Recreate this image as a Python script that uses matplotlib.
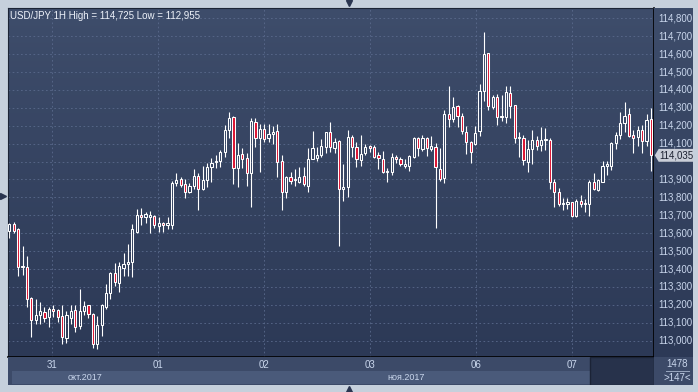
import numpy as np
import matplotlib
matplotlib.use('Agg')
import matplotlib.pyplot as plt
from matplotlib.colors import LinearSegmentedColormap
from matplotlib.patches import Rectangle, Polygon
from matplotlib.lines import Line2D
import matplotlib.transforms as mtransforms

plt.rcParams['font.family'] = ['Liberation Sans', 'DejaVu Sans']

# USD/JPY 1H candles (open, high, low, close)
opens = [113.614, 113.650, 113.624, 113.410, 113.410, 113.237, 113.114, 113.142, 113.158, 113.131,
         113.177, 113.170, 113.136, 113.015, 113.125, 113.170, 113.082, 113.164, 113.198, 113.147,
         112.981, 113.086, 113.190, 113.265, 113.376, 113.320, 113.407, 113.427, 113.441, 113.608,
         113.700, 113.689, 113.692, 113.694, 113.642, 113.655, 113.648, 113.648, 113.879, 113.901,
         113.873, 113.828, 113.862, 113.918, 113.845, 113.895, 113.968, 113.995, 114.002, 114.052,
         114.175, 114.247, 113.962, 114.041, 114.018, 113.935, 114.223, 114.130, 114.180, 114.130,
         114.152, 114.169, 114.002, 113.828, 113.916, 113.895, 113.888, 113.918, 113.865, 114.014,
         114.022, 114.035, 114.080, 114.163, 114.074, 114.113, 113.845, 113.856, 114.135, 114.080,
         114.007, 114.046, 114.085, 114.081, 114.037, 114.013, 113.940, 113.940, 114.026, 114.013,
         113.977, 113.977, 114.027, 114.130, 114.068, 114.130, 114.072, 114.080, 113.960, 113.907,
         114.264, 114.236, 114.310, 114.255, 114.167, 114.108, 114.096, 114.171, 114.394, 114.605,
         114.306, 114.359, 114.250, 114.247, 114.381, 114.316, 114.131, 114.130, 114.000, 114.069,
         114.120, 114.093, 114.121, 114.120, 113.888, 113.828, 113.763, 113.765, 113.773, 113.698,
         113.778, 113.761, 113.761, 113.888, 113.841, 113.888, 113.975, 113.977, 114.102, 114.149,
         114.217, 114.264, 114.149, 114.135, 114.176, 114.117, 114.236]
highs = [113.659, 113.665, 113.628, 113.529, 113.473, 113.244, 113.233, 113.216, 113.190, 113.190,
         113.199, 113.177, 113.199, 113.167, 113.199, 113.199, 113.287, 113.222, 113.198, 113.153,
         113.139, 113.203, 113.316, 113.385, 113.432, 113.441, 113.488, 113.540, 113.651, 113.734,
         113.739, 113.717, 113.722, 113.700, 113.692, 113.664, 113.689, 113.890, 113.935, 113.916,
         113.901, 113.879, 113.957, 113.935, 113.974, 113.990, 114.018, 114.035, 114.063, 114.203,
         114.275, 114.255, 114.105, 114.074, 114.046, 114.242, 114.242, 114.210, 114.210, 114.210,
         114.199, 114.210, 114.035, 113.919, 113.940, 113.957, 113.971, 113.968, 114.074, 114.169,
         114.080, 114.124, 114.163, 114.219, 114.130, 114.118, 113.986, 114.175, 114.147, 114.108,
         114.147, 114.096, 114.090, 114.093, 114.055, 114.059, 113.964, 114.050, 114.037, 114.024,
         114.013, 114.037, 114.139, 114.135, 114.149, 114.135, 114.143, 114.104, 114.076, 114.288,
         114.422, 114.359, 114.316, 114.270, 114.199, 114.117, 114.200, 114.431, 114.725, 114.608,
         114.372, 114.377, 114.372, 114.422, 114.422, 114.316, 114.167, 114.149, 114.120, 114.176,
         114.143, 114.195, 114.186, 114.130, 113.903, 113.851, 113.795, 113.795, 113.776, 113.791,
         113.813, 113.789, 113.897, 113.935, 113.901, 114.003, 114.005, 114.111, 114.167, 114.275,
         114.331, 114.298, 114.176, 114.199, 114.204, 114.264, 114.298]
lows = [113.575, 113.600, 113.361, 113.365, 113.190, 113.019, 113.095, 113.095, 113.104, 113.078,
        113.134, 113.106, 112.982, 112.986, 113.093, 113.047, 113.065, 113.143, 113.125, 112.962,
        112.955, 113.028, 113.175, 113.233, 113.305, 113.273, 113.361, 113.361, 113.357, 113.600,
        113.646, 113.655, 113.600, 113.631, 113.605, 113.605, 113.625, 113.625, 113.864, 113.856,
        113.797, 113.823, 113.845, 113.728, 113.841, 113.856, 113.884, 113.962, 113.968, 114.024,
        114.130, 113.873, 113.856, 113.962, 113.865, 113.745, 114.080, 113.944, 114.108, 114.108,
        114.096, 113.916, 113.730, 113.795, 113.873, 113.865, 113.879, 113.864, 113.832, 114.013,
        114.002, 114.027, 114.050, 114.053, 114.046, 113.530, 113.782, 113.800, 114.024, 113.968,
        113.974, 114.035, 114.053, 114.020, 113.959, 113.935, 113.888, 113.923, 113.994, 113.977,
        113.962, 113.949, 114.022, 114.031, 114.061, 114.033, 114.059, 113.627, 113.893, 113.879,
        114.195, 114.223, 114.195, 114.154, 114.041, 113.994, 114.094, 114.145, 114.338, 114.288,
        114.294, 114.204, 114.228, 114.217, 114.245, 114.102, 114.027, 113.981, 113.944, 113.986,
        114.065, 114.061, 114.065, 113.845, 113.748, 113.752, 113.730, 113.734, 113.692, 113.692,
        113.748, 113.717, 113.698, 113.841, 113.837, 113.884, 113.925, 113.953, 114.069, 114.124,
        114.167, 114.135, 114.046, 114.087, 114.050, 114.087, 113.949]
closes = [113.652, 113.615, 113.413, 113.418, 113.231, 113.114, 113.142, 113.166, 113.125, 113.177,
          113.164, 113.134, 113.019, 113.142, 113.166, 113.078, 113.166, 113.192, 113.149, 112.981,
          113.086, 113.198, 113.265, 113.380, 113.326, 113.417, 113.428, 113.439, 113.622, 113.700,
          113.689, 113.707, 113.700, 113.644, 113.655, 113.644, 113.655, 113.879, 113.895, 113.868,
          113.828, 113.862, 113.918, 113.845, 113.895, 113.968, 113.990, 113.999, 114.052, 114.175,
          114.242, 113.962, 114.035, 114.013, 113.935, 114.227, 114.130, 114.180, 114.124, 114.152,
          114.163, 113.996, 113.832, 113.916, 113.893, 113.899, 113.912, 113.873, 114.013, 114.074,
          114.035, 114.085, 114.163, 114.080, 114.108, 113.845, 113.856, 114.135, 114.080, 114.013,
          114.041, 114.080, 114.074, 114.027, 114.018, 113.944, 113.944, 114.026, 114.013, 113.985,
          113.988, 114.030, 114.132, 114.074, 114.130, 114.078, 114.085, 113.968, 113.901, 114.264,
          114.239, 114.305, 114.255, 114.171, 114.108, 114.052, 114.161, 114.394, 114.601, 114.310,
          114.362, 114.251, 114.254, 114.387, 114.310, 114.130, 114.135, 114.009, 114.069, 114.120,
          114.089, 114.120, 114.125, 113.888, 113.832, 113.761, 113.767, 113.774, 113.698, 113.780,
          113.761, 113.765, 113.888, 113.845, 113.895, 113.975, 113.986, 114.102, 114.149, 114.214,
          114.256, 114.143, 114.130, 114.176, 114.117, 114.232, 114.035]

# day separators (candle index) and their labels
day_pos = [9.7, 33.8, 57.9, 82.1, 106.2, 128.0]
day_labels = ['31', '01', '02', '03', '06', '07']
months = ['окт.2017', 'ноя.2017']
month_start = [0.6, 33.8]
price_ticks = [113.0 + 0.1 * k for k in range(19)]
bars_total = '1478'
bars_shown = '>147<'

W, H = 698, 392
top_col, bot_col = '#3e4d6b', '#2c3956'
red = '#dc1433'
txt = '#c9d6ec'

def px_rect(x0, y0, x1, y1):
    return [x0 / W, 1 - y1 / H, (x1 - x0) / W, (y1 - y0) / H]

def fmt(p):
    return f'{p:.3f}'.replace('.', ',')

fig = plt.figure(figsize=(W / 100, H / 100), dpi=100)
fig.patch.set_facecolor('#c6d0dc')

x = np.arange(len(opens))
o = np.array(opens); c = np.array(closes)
h = np.array(highs); l = np.array(lows)
xmin, xmax = -0.3, 146.7
ymin, ymax = 112.909, 114.8575
grad = LinearSegmentedColormap.from_list('bg', [top_col, bot_col])

ax = fig.add_axes(px_rect(8, 8, 654, 357))
ax.imshow(np.linspace(0, 1, 256).reshape(-1, 1), cmap=grad, aspect='auto',
          extent=[xmin, xmax, ymin, ymax], origin='upper', zorder=0)
ax.set_xlim(xmin, xmax)
ax.set_ylim(ymin, ymax)

for p in price_ticks:
    ax.axhline(p, color='#5a6a8c', lw=0.6, ls=(0, (2, 3)), zorder=1)
for d in day_pos:
    ax.axvline(d, color='#5a6a8c', lw=0.6, ls=(0, (2, 3)), zorder=1)

# candles
up = c >= o
body_top = np.maximum(o, c)
body_bot = np.minimum(o, c)
ax.vlines(x, body_top, h, color='white', lw=0.8, zorder=2)
ax.vlines(x, l, body_bot, color='white', lw=0.8, zorder=2)
heights = np.maximum(body_top - body_bot, 0.006)
ax.bar(x[up], heights[up], bottom=body_bot[up], width=0.5, facecolor='none',
       edgecolor='white', lw=0.75, zorder=3)
ax.bar(x[~up], heights[~up], bottom=body_bot[~up], width=0.5, facecolor=red,
       edgecolor='white', lw=0.75, zorder=3)

ax.set_xticks([]); ax.set_yticks([])
for s in ['left', 'top']:
    ax.spines[s].set_color('#1c2436')
for s in ['right', 'bottom']:
    ax.spines[s].set_color('black')
    ax.spines[s].set_linewidth(1.2)

ax.text(0.003, 0.976, f'USD/JPY 1H High = {fmt(max(highs))} Low = {fmt(min(lows))}',
        transform=ax.transAxes, color='#eef2fa', fontsize=7, va='center', ha='left')

# price scale
axp = fig.add_axes(px_rect(654, 8, 693, 357))
axp.imshow(np.linspace(0, 1, 256).reshape(-1, 1), cmap=grad, aspect='auto',
           extent=[0, 1, ymin, ymax], origin='upper', zorder=0)
axp.set_xlim(0, 1); axp.set_ylim(ymin, ymax)
axp.set_xticks([]); axp.set_yticks([])
for s in axp.spines.values():
    s.set_visible(False)
trp = mtransforms.blended_transform_factory(axp.transAxes, axp.transData)
last = closes[-1]
for p in price_ticks:
    if abs(p - last) < 0.05:
        continue  # hidden behind the last-price tag
    axp.text(0.1, p, fmt(p), transform=trp, color=txt, fontsize=7, va='center', ha='left')
hh = 0.036
axp.add_patch(Polygon([(0.02, last), (0.12, last + hh), (1.0, last + hh), (1.0, last - hh), (0.12, last - hh)],
                      closed=True, transform=trp, facecolor='#c9ced8', edgecolor='none', zorder=4))
axp.text(0.14, last, fmt(last), transform=trp, color='#1a2030', fontsize=7, va='center', ha='left', zorder=5)

# date scale
axd = fig.add_axes(px_rect(8, 357, 654, 385))
axd.set_facecolor('#3c4a68')
axd.set_xlim(xmin, xmax); axd.set_ylim(0, 1)
axd.set_xticks([]); axd.set_yticks([])
for s in axd.spines.values():
    s.set_visible(False)
month_end = month_start[1:] + [xmax]
for m, a, b in zip(months, month_start, month_end):
    axd.add_patch(Rectangle((a, 0.04), b - a, 0.46, facecolor='#4a5a7a', edgecolor='none'))
    axd.text((a + b) / 2, 0.27, m, color=txt, fontsize=6.5, ha='center', va='center')
axd.add_patch(Rectangle((132.1, 0.0), xmax - 132.1, 1.0, facecolor='#27324b', edgecolor='#1b2336', lw=1, zorder=3))
for d, lab in zip(day_pos, day_labels):
    axd.text(d, 0.72, lab, color=txt, fontsize=7, ha='center', va='center')

# corner box
axc = fig.add_axes(px_rect(654, 357, 693, 385))
axc.set_facecolor('#3c4a68')
axc.set_xticks([]); axc.set_yticks([])
for s in axc.spines.values():
    s.set_visible(False)
axc.text(0.6, 0.76, bars_total, color=txt, fontsize=7, ha='center', va='center')
axc.plot([0.3, 0.9], [0.5, 0.5], color='#9aa8c0', lw=0.7)
axc.text(0.6, 0.26, bars_shown, color=txt, fontsize=7, ha='center', va='center')
axc.set_xlim(0, 1); axc.set_ylim(0, 1)

# small window arrows
for (px, py, mk) in [(349, 3, 'v'), (349, 389, '^'), (3, 196, '>')]:
    fig.add_artist(Line2D([px / W], [1 - py / H], marker=mk, color='#2a3550',
                          markersize=4, transform=fig.transFigure))

plt.savefig('out.png', dpi=100, facecolor=fig.get_facecolor())
